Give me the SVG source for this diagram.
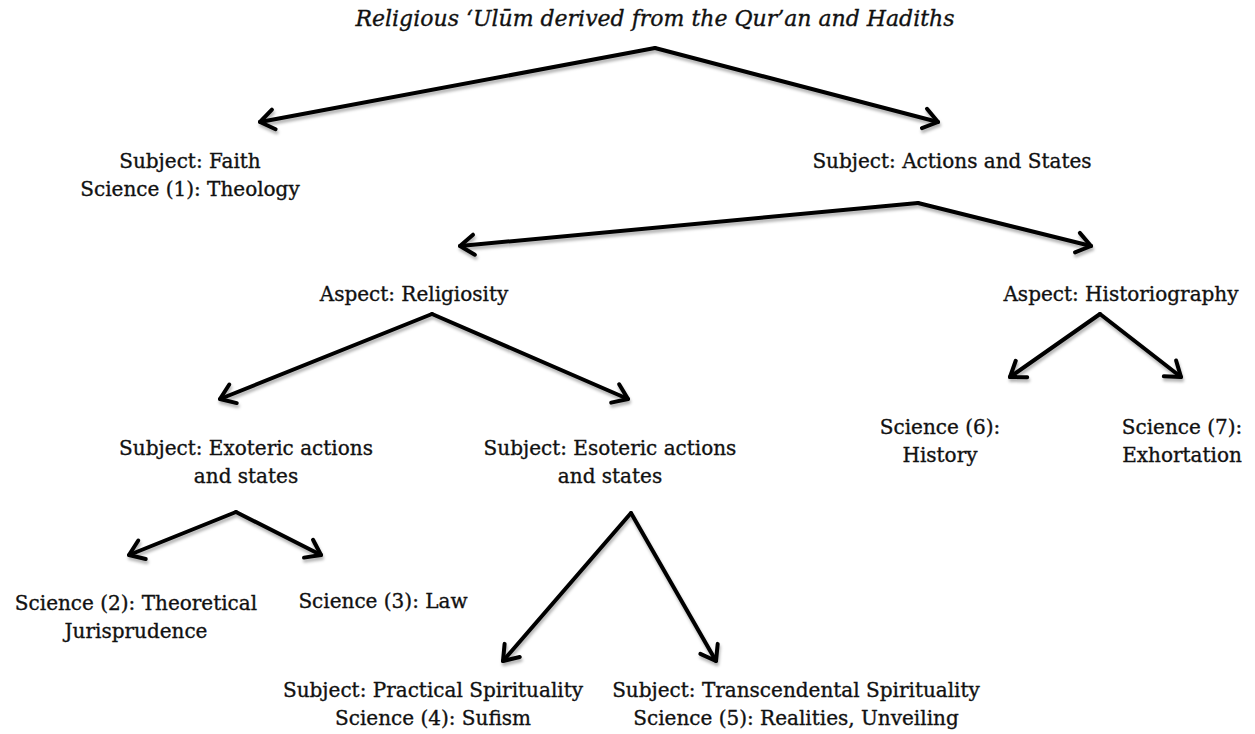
<svg xmlns="http://www.w3.org/2000/svg" width="1255" height="734" viewBox="0 0 1255 734">
<style>
  text { font-family: "DejaVu Serif", "Liberation Serif", serif; font-size: 20px; fill: #111; stroke: #111; stroke-width: 0.35; text-anchor: middle; }
  .title { font-style: italic; font-size: 22px; }
  .edge { fill: none; stroke: #000; stroke-width: 4; stroke-linecap: round; stroke-linejoin: round; marker-end: url(#arrow); }
</style>
<defs>
  <marker id="arrow" markerUnits="userSpaceOnUse" viewBox="-20 -14 26 28" markerWidth="26" markerHeight="28" refX="0" refY="0" orient="auto">
    <path d="M -14 -10 L 0 0 L -14 10" fill="none" stroke="#000" stroke-width="4" stroke-linecap="round" stroke-linejoin="round"/>
  </marker>
  <filter id="shadow" x="-10%" y="-10%" width="120%" height="130%">
    <feDropShadow dx="1" dy="3" stdDeviation="1.5" flood-color="#000" flood-opacity="0.3"/>
  </filter>
</defs>
<rect width="1255" height="734" fill="#fff"/>

<g id="connectors" filter="url(#shadow)">
  <path class="edge" d="M 655 48 L 260 122"/>
  <path class="edge" d="M 655 48 L 938 122"/>
  <path class="edge" d="M 918 203 L 460 246"/>
  <path class="edge" d="M 918 203 L 1091 246"/>
  <path class="edge" d="M 432 314 L 220 399"/>
  <path class="edge" d="M 432 314 L 628 399"/>
  <path class="edge" d="M 1100 314 L 1010 377"/>
  <path class="edge" d="M 1100 314 L 1181 377"/>
  <path class="edge" d="M 236 512 L 129 555"/>
  <path class="edge" d="M 236 512 L 321 555"/>
  <path class="edge" d="M 631 513 L 503 661"/>
  <path class="edge" d="M 631 513 L 716 661"/>
</g>

<g id="root"><text class="title" x="655" y="26">Religious ‘Ulūm derived from the Qur’an and Hadiths</text></g>
<g id="faith">
  <text x="190" y="168">Subject: Faith</text>
  <text x="190" y="196">Science (1): Theology</text>
</g>
<g id="actions"><text x="952" y="168">Subject: Actions and States</text></g>
<g id="religiosity"><text x="414" y="301">Aspect: Religiosity</text></g>
<g id="historiography"><text x="1121" y="301">Aspect: Historiography</text></g>
<g id="exoteric">
  <text x="246" y="455">Subject: Exoteric actions</text>
  <text x="246" y="483">and states</text>
</g>
<g id="esoteric">
  <text x="610" y="455">Subject: Esoteric actions</text>
  <text x="610" y="483">and states</text>
</g>
<g id="history">
  <text x="940" y="434">Science (6):</text>
  <text x="940" y="462">History</text>
</g>
<g id="exhortation">
  <text x="1182" y="434">Science (7):</text>
  <text x="1182" y="462">Exhortation</text>
</g>
<g id="jurisprudence">
  <text x="136" y="610">Science (2): Theoretical</text>
  <text x="136" y="638">Jurisprudence</text>
</g>
<g id="law"><text x="383" y="608">Science (3): Law</text></g>
<g id="sufism">
  <text x="433" y="697">Subject: Practical Spirituality</text>
  <text x="433" y="725">Science (4): Sufism</text>
</g>
<g id="realities">
  <text x="796" y="697">Subject: Transcendental Spirituality</text>
  <text x="796" y="725">Science (5): Realities, Unveiling</text>
</g>
</svg>
